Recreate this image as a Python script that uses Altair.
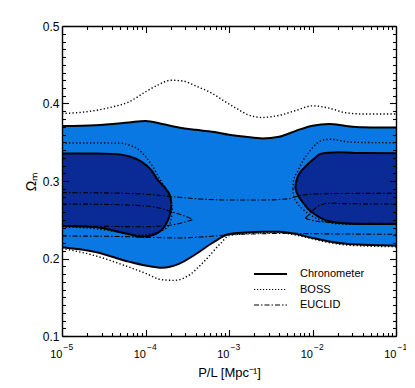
import altair as alt
import pandas as pd

# ---------------- data (x given as log10(P/L)) ----------------
chrono_outer_lx = [-5.0, -4.6, -4.2, -4.0, -3.8, -3.6, -3.4, -3.2, -3.0, -2.8, -2.6, -2.4, -2.2, -2.0, -1.8, -1.6, -1.4, -1.2, -1.0]
chrono_outer_hi = [0.371, 0.372, 0.3755, 0.3775, 0.3735, 0.369, 0.366, 0.3635, 0.3597, 0.357, 0.355, 0.357, 0.3647, 0.3714, 0.3735, 0.371, 0.3693, 0.369, 0.369]
chrono_outer_lo = [0.2145, 0.2085, 0.196, 0.191, 0.188, 0.193, 0.2055, 0.220, 0.2315, 0.2335, 0.2345, 0.2346, 0.2315, 0.2265, 0.222, 0.219, 0.2178, 0.217, 0.2165]

dark_left_lx = [-5.0, -4.6, -4.4, -4.2, -4.05, -3.93, -3.85, -3.78, -3.745, -3.715, -3.698, -3.69]
dark_left_hi = [0.3356, 0.3355, 0.335, 0.332, 0.325, 0.314, 0.301, 0.293, 0.288, 0.283, 0.277, 0.2705]
dark_left_lo = [0.242, 0.2405, 0.2365, 0.2315, 0.228, 0.2297, 0.2333, 0.240, 0.2465, 0.254, 0.262, 0.2695]

dark_right_lx = [-2.206, -2.195, -2.17, -2.126, -2.066, -1.99, -1.906, -1.8, -1.7, -1.4, -1.0]
dark_right_hi = [0.2925, 0.299, 0.307, 0.314, 0.3206, 0.328, 0.3348, 0.3365, 0.337, 0.336, 0.3357]
dark_right_lo = [0.2925, 0.287, 0.281, 0.274, 0.2655, 0.2583, 0.2525, 0.248, 0.2462, 0.2445, 0.2445]

boss_outer_hi_lx = [-5.0, -4.6, -4.4, -4.2, -4.0, -3.85, -3.7, -3.55, -3.385, -3.2, -3.07, -2.9, -2.785, -2.6, -2.386, -2.2, -2.0, -1.8, -1.6, -1.4, -1.0]
boss_outer_hi = [0.387, 0.391, 0.3955, 0.402, 0.415, 0.424, 0.430, 0.429, 0.422, 0.413, 0.404, 0.393, 0.386, 0.382, 0.385, 0.391, 0.397, 0.394, 0.388, 0.3865, 0.3865]
boss_outer_lo_lx = [-5.0, -4.6, -4.2, -4.0, -3.8, -3.65, -3.5, -3.3, -3.1, -3.0, -2.8, -2.6, -2.4, -2.2, -2.0, -1.8, -1.6, -1.4, -1.0]
boss_outer_lo = [0.213, 0.2035, 0.189, 0.181, 0.1725, 0.1718, 0.177, 0.196, 0.2196, 0.2295, 0.232, 0.233, 0.2335, 0.2302, 0.2253, 0.2205, 0.2175, 0.2163, 0.2152]

boss_inl_hi_lx = [-5.0, -4.6, -4.3, -4.2, -4.1, -4.0, -3.91, -3.825, -3.75, -3.7, -3.68]
boss_inl_hi = [0.349, 0.349, 0.3488, 0.3465, 0.342, 0.3315, 0.318, 0.302, 0.289, 0.279, 0.265]
boss_inl_lo_lx = [-5.0, -4.7, -4.4, -4.1, -3.95, -3.8, -3.72, -3.69, -3.68]
boss_inl_lo = [0.2405, 0.2395, 0.2355, 0.230, 0.2315, 0.236, 0.243, 0.252, 0.265]

boss_inr_hi_lx = [-2.235, -2.226, -2.18, -2.11, -2.03, -1.946, -1.87, -1.787, -1.586, -1.4, -1.0]
boss_inr_hi = [0.290, 0.3013, 0.312, 0.327, 0.339, 0.3486, 0.353, 0.3538, 0.3507, 0.3497, 0.3494]
boss_inr_lo_lx = [-2.235, -2.225, -2.19, -2.12, -2.0, -1.85, -1.6, -1.0]
boss_inr_lo = [0.290, 0.280, 0.2725, 0.264, 0.2545, 0.2475, 0.2442, 0.244]

euclid_out_hi_lx = [-5.0, -4.4, -4.0, -3.6, -3.3, -3.0, -2.6, -2.3, -2.11, -1.9, -1.5, -1.0]
euclid_out_hi = [0.285, 0.2845, 0.283, 0.279, 0.2765, 0.2755, 0.2755, 0.277, 0.282, 0.2835, 0.284, 0.284]
euclid_out_lo_lx = [-5.0, -4.4, -4.0, -3.6, -3.3, -3.0, -2.6, -2.3, -2.0, -1.5, -1.0]
euclid_out_lo = [0.229, 0.2285, 0.2275, 0.2265, 0.228, 0.2305, 0.232, 0.2325, 0.232, 0.2315, 0.2312]

euclid_inl_hi_lx = [-5.0, -4.6, -4.2, -3.9, -3.705, -3.55, -3.43]
euclid_inl_hi = [0.2703, 0.270, 0.269, 0.2665, 0.261, 0.2555, 0.2505]
euclid_inl_lo_lx = [-5.0, -4.5, -4.0, -3.705, -3.55, -3.43]
euclid_inl_lo = [0.2425, 0.2415, 0.241, 0.243, 0.2465, 0.2505]

euclid_inr_hi_lx = [-2.086, -2.04, -1.99, -1.906, -1.8, -1.5, -1.0]
euclid_inr_hi = [0.252, 0.257, 0.2626, 0.269, 0.2712, 0.2706, 0.2703]
euclid_inr_lo_lx = [-2.086, -1.99, -1.787, -1.5, -1.0]
euclid_inr_lo = [0.252, 0.249, 0.2465, 0.2455, 0.2455]

legend_labels = ["Chronometer", "BOSS", "EUCLID"]

x_major = [1e-5, 1e-4, 1e-3, 1e-2, 1e-1]
x_minor = [m * 10.0 ** e for e in range(-5, -1) for m in range(2, 10)]
y_major = [0.1, 0.2, 0.3, 0.4, 0.5]
y_minor = [round(0.1 + 0.01 * i, 2) for i in range(41) if i % 10 != 0]

LIGHT = "#0A78E2"
DARK = "#0A2A96"
FONT = "Liberation Sans"
W, H = 334, 310


def band(lx, hi, lo):
    return pd.DataFrame({"P": [10.0 ** v for v in lx], "hi": hi, "lo": lo})


def curve(lx, y, group):
    return pd.DataFrame({"P": [10.0 ** v for v in lx], "om": y, "group": group})


chrono_lines = pd.concat([
    curve(chrono_outer_lx, chrono_outer_hi, "oh"),
    curve(chrono_outer_lx, chrono_outer_lo, "ol"),
    curve(dark_left_lx, dark_left_hi, "lh"),
    curve(dark_left_lx, dark_left_lo, "ll"),
    curve(dark_right_lx, dark_right_hi, "rh"),
    curve(dark_right_lx, dark_right_lo, "rl"),
])
boss_lines = pd.concat([
    curve(boss_outer_hi_lx, boss_outer_hi, "oh"),
    curve(boss_outer_lo_lx, boss_outer_lo, "ol"),
    curve(boss_inl_hi_lx, boss_inl_hi, "lh"),
    curve(boss_inl_lo_lx, boss_inl_lo, "ll"),
    curve(boss_inr_hi_lx, boss_inr_hi, "rh"),
    curve(boss_inr_lo_lx, boss_inr_lo, "rl"),
])
euclid_lines = pd.concat([
    curve(euclid_out_hi_lx, euclid_out_hi, "oh"),
    curve(euclid_out_lo_lx, euclid_out_lo, "ol"),
    curve(euclid_inl_hi_lx, euclid_inl_hi, "lh"),
    curve(euclid_inl_lo_lx, euclid_inl_lo, "ll"),
    curve(euclid_inr_hi_lx, euclid_inr_hi, "rh"),
    curve(euclid_inr_lo_lx, euclid_inr_lo, "rl"),
])

xscale = alt.Scale(type="log", domain=[1e-5, 1e-1], nice=False)
yscale = alt.Scale(domain=[0.1, 0.5], nice=False, zero=False)


def tick_axis(orient, offset, values, size, domain):
    return alt.Axis(orient=orient, offset=offset, values=values, tickSize=size,
                    labels=False, title=None, grid=False, ticks=True,
                    tickColor="black", tickWidth=1.1, domain=domain,
                    domainColor="black", domainWidth=1.4, zindex=1)


# label axes
x_lab_axis = alt.Axis(orient="bottom", values=x_major, labelExpr="'10'", labelAlign="right",
                      labelBaseline="top", labelFontSize=11, labelPadding=12, labelFlush=False,
                      labelOverlap=False, labelColor="black", labelFont=FONT,
                      ticks=False, tickSize=0, domain=False, grid=False,
                      title="P/L [Mpc⁻¹]", titleFont=FONT, titleFontSize=13,
                      titleFontWeight="normal", titleColor="black",
                      titleBaseline="alphabetic", titleY=40)
x_sup_axis = alt.Axis(orient="bottom", values=x_major,
                      labelExpr="'−' + round(-log(datum.value)/LN10)", labelAlign="left",
                      labelBaseline="top", labelFontSize=8.5, labelPadding=6, labelOffset=1,
                      labelFlush=False, labelOverlap=False, labelColor="black", labelFont=FONT,
                      ticks=False, tickSize=0, domain=False, grid=False, title=None)
y_lab_axis = alt.Axis(orient="left", values=y_major, format=".1f", labelFontSize=12,
                      labelPadding=3, labelFlush=False, labelOverlap=False, labelColor="black",
                      labelFont=FONT, ticks=False, tickSize=0, domain=False, grid=False,
                      title="Ωₘ", titleFont=FONT, titleFontSize=14, titleFontWeight="normal",
                      titleColor="black", titleAngle=270, titleAlign="center",
                      titleBaseline="middle", titleX=-31, titleY=155)

light = alt.Chart(band(chrono_outer_lx, chrono_outer_hi, chrono_outer_lo)).mark_area(
    color=LIGHT, interpolate="monotone").encode(
    x=alt.X("P:Q", scale=xscale, axis=x_lab_axis),
    y=alt.Y("hi:Q", scale=yscale, axis=y_lab_axis),
    y2="lo:Q")

dark_left = alt.Chart(band(dark_left_lx, dark_left_hi, dark_left_lo)).mark_area(
    color=DARK, interpolate="monotone").encode(
    x=alt.X("P:Q", scale=xscale, axis=tick_axis("top", -H, x_major, 6.5, True)),
    y=alt.Y("hi:Q", scale=yscale, axis=tick_axis("right", -W, y_major, 6.5, True)),
    y2="lo:Q")

dark_right = alt.Chart(band(dark_right_lx, dark_right_hi, dark_right_lo)).mark_area(
    color=DARK, interpolate="monotone").encode(
    x=alt.X("P:Q", scale=xscale, axis=tick_axis("top", -H, x_minor, 3.5, False)),
    y=alt.Y("hi:Q", scale=yscale, axis=tick_axis("right", -W, y_minor, 3.5, False)),
    y2="lo:Q")

euclid = alt.Chart(euclid_lines).mark_line(
    color="black", strokeWidth=1.1, strokeDash=[5, 2, 1.5, 2], interpolate="monotone").encode(
    x=alt.X("P:Q", scale=xscale, axis=x_sup_axis),
    y=alt.Y("om:Q", scale=yscale, axis=None),
    detail="group:N")

boss = alt.Chart(boss_lines).mark_line(
    color="black", strokeWidth=1.4, strokeDash=[1.3, 2.2], interpolate="monotone").encode(
    x=alt.X("P:Q", scale=xscale, axis=tick_axis("bottom", -H, x_minor, 3.5, False)),
    y=alt.Y("om:Q", scale=yscale, axis=tick_axis("left", -W, y_minor, 3.5, False)),
    detail="group:N")

chrono = alt.Chart(chrono_lines).mark_line(
    color="black", strokeWidth=2, interpolate="monotone").encode(
    x=alt.X("P:Q", scale=xscale, axis=tick_axis("bottom", -H, x_major, 6.5, True)),
    y=alt.Y("om:Q", scale=yscale, axis=tick_axis("left", -W, y_major, 6.5, True)),
    detail="group:N")

# legend (manual, bottom right inside the frame)
one = pd.DataFrame({"k": [0]})
leg_rows = [248, 263.5, 279]
leg_styles = [dict(strokeWidth=2), dict(strokeWidth=1.2, strokeDash=[1.2, 1.8]),
              dict(strokeWidth=1.1, strokeDash=[5, 2, 1.5, 2])]
legend_layers = []
for lab, yy, st in zip(legend_labels, leg_rows, leg_styles):
    legend_layers.append(alt.Chart(one).mark_rule(color="black", **st).encode(
        x=alt.value(192), x2=alt.value(225), y=alt.value(yy)))
    legend_layers.append(alt.Chart(one).mark_text(
        align="left", baseline="middle", fontSize=11, font=FONT, color="black").encode(
        x=alt.value(238), y=alt.value(yy), text=alt.value(lab)))

chart = alt.layer(light, dark_left, dark_right, euclid, boss, chrono, *legend_layers).resolve_axis(
    x="independent", y="independent"
).properties(
    width=W, height=H,
    autosize=alt.AutoSizeParams(type="none"),
    padding={"left": 54, "top": 18, "right": 10, "bottom": 54},
    background="white",
).configure_view(stroke=None).configure(font=FONT)

chart.save("out.html", embed_options={"renderer": "svg", "actions": False})
